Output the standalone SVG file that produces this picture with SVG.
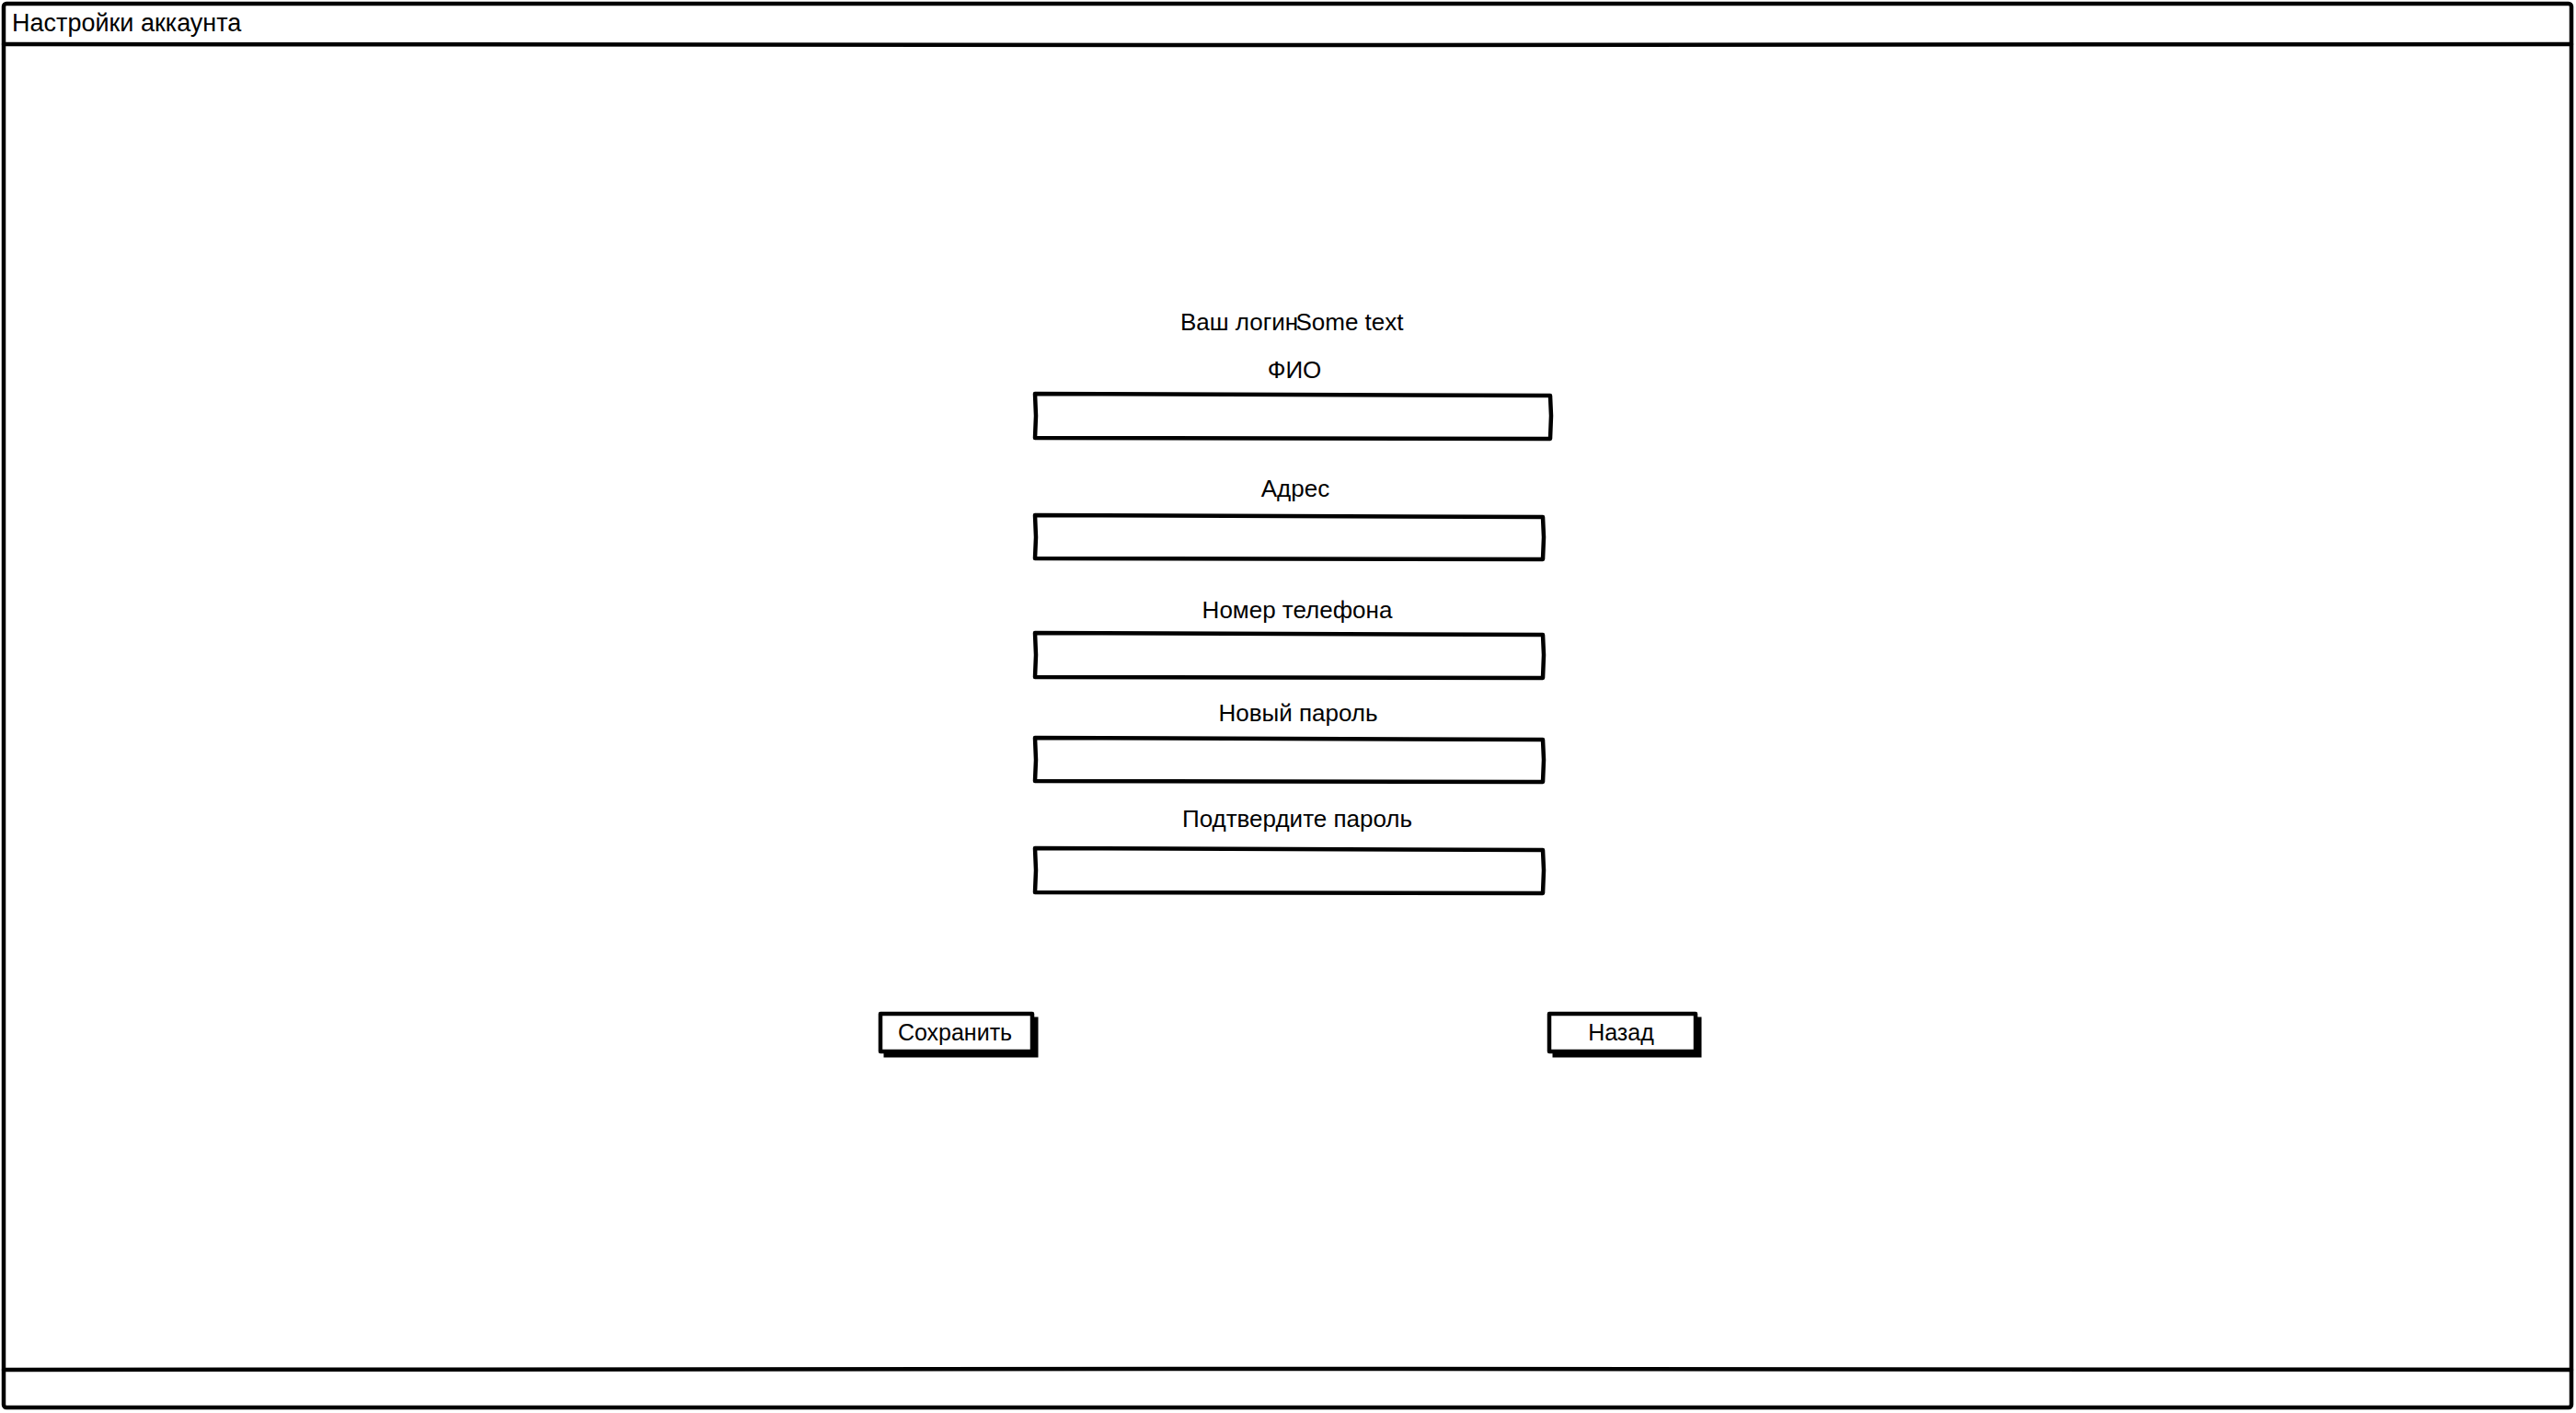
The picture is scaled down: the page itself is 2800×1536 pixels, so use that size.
<svg xmlns="http://www.w3.org/2000/svg" width="2800" height="1536" viewBox="0 0 2800 1536">
  <style>
    .frame { fill: #ffffff; stroke: #000000; stroke-width: 4.5; stroke-linejoin: round; }
    .line { stroke: #000000; stroke-width: 4.5; fill: none; stroke-linecap: round; }
    .field { fill: #ffffff; stroke: #000000; stroke-width: 4.5; stroke-linejoin: round; }
    .shadow { fill: #000000; stroke: #000000; stroke-width: 3; }
    .btn { fill: #ffffff; stroke: #000000; stroke-width: 4.5; stroke-linejoin: round; }
    .lbl { font-family: "Liberation Sans", "Noto Sans", Arial, sans-serif; font-size: 26px; fill: #000000; }
    .title { font-family: "Liberation Sans", "Noto Sans", Arial, sans-serif; font-size: 27px; fill: #000000; }
    .btntxt { font-family: "Liberation Sans", "Noto Sans", Arial, sans-serif; font-size: 25px; fill: #000000; text-anchor: middle; }
    .c { text-anchor: middle; }
  </style>
  <rect width="2800" height="1536" fill="#ffffff"/>

  <g id="window">
    <rect class="frame" x="4" y="4" width="2791" height="1526" rx="3"/>
    <path class="line" d="M4 48 L1400 49 L2795 48"/>
    <text class="title" x="13" y="34">Настройки аккаунта</text>
  </g>

  <g id="footer">
    <path class="line" d="M4 1489 L1400 1488 L2795 1489"/>
  </g>

  <g id="login">
    <text class="lbl c" x="1347" y="359">Ваш логин</text>
    <text class="lbl c" x="1467" y="359">Some text</text>
  </g>

  <g id="fio">
    <text class="lbl c" x="1407" y="411">ФИО</text>
    <path class="field" d="M1125 428 Q1400 429 1685 430 L1686 452 L1685 477 Q1400 477 1125 476 L1126 452 Z"/>
  </g>

  <g id="address">
    <text class="lbl c" x="1408" y="540">Адрес</text>
    <path class="field" d="M1125 560 Q1400 561 1677 562 L1678 584 L1677 608 Q1400 608 1125 607 L1126 584 Z"/>
  </g>

  <g id="phone">
    <text class="lbl c" x="1410" y="672">Номер телефона</text>
    <path class="field" d="M1125 688 Q1400 689 1677 690 L1678 712 L1677 737 Q1400 737 1125 736 L1126 712 Z"/>
  </g>

  <g id="new-password">
    <text class="lbl c" x="1411" y="784">Новый пароль</text>
    <path class="field" d="M1125 802 Q1400 803 1677 804 L1678 826 L1677 850 Q1400 850 1125 849 L1126 826 Z"/>
  </g>

  <g id="confirm-password">
    <text class="lbl c" x="1410" y="899">Подтвердите пароль</text>
    <path class="field" d="M1125 922 Q1400 923 1677 924 L1678 946 L1677 971 Q1400 971 1125 970 L1126 946 Z"/>
  </g>

  <g id="btn-save">
    <rect class="shadow" x="962" y="1107" width="165" height="41"/>
    <rect class="btn" x="957" y="1102" width="165" height="41"/>
    <text class="btntxt" x="1038" y="1131">Сохранить</text>
  </g>

  <g id="btn-back">
    <rect class="shadow" x="1689" y="1107" width="159" height="41"/>
    <rect class="btn" x="1684" y="1102" width="159" height="41"/>
    <text class="btntxt" x="1762" y="1131">Назад</text>
  </g>

  <g id="connectors"></g>
</svg>
